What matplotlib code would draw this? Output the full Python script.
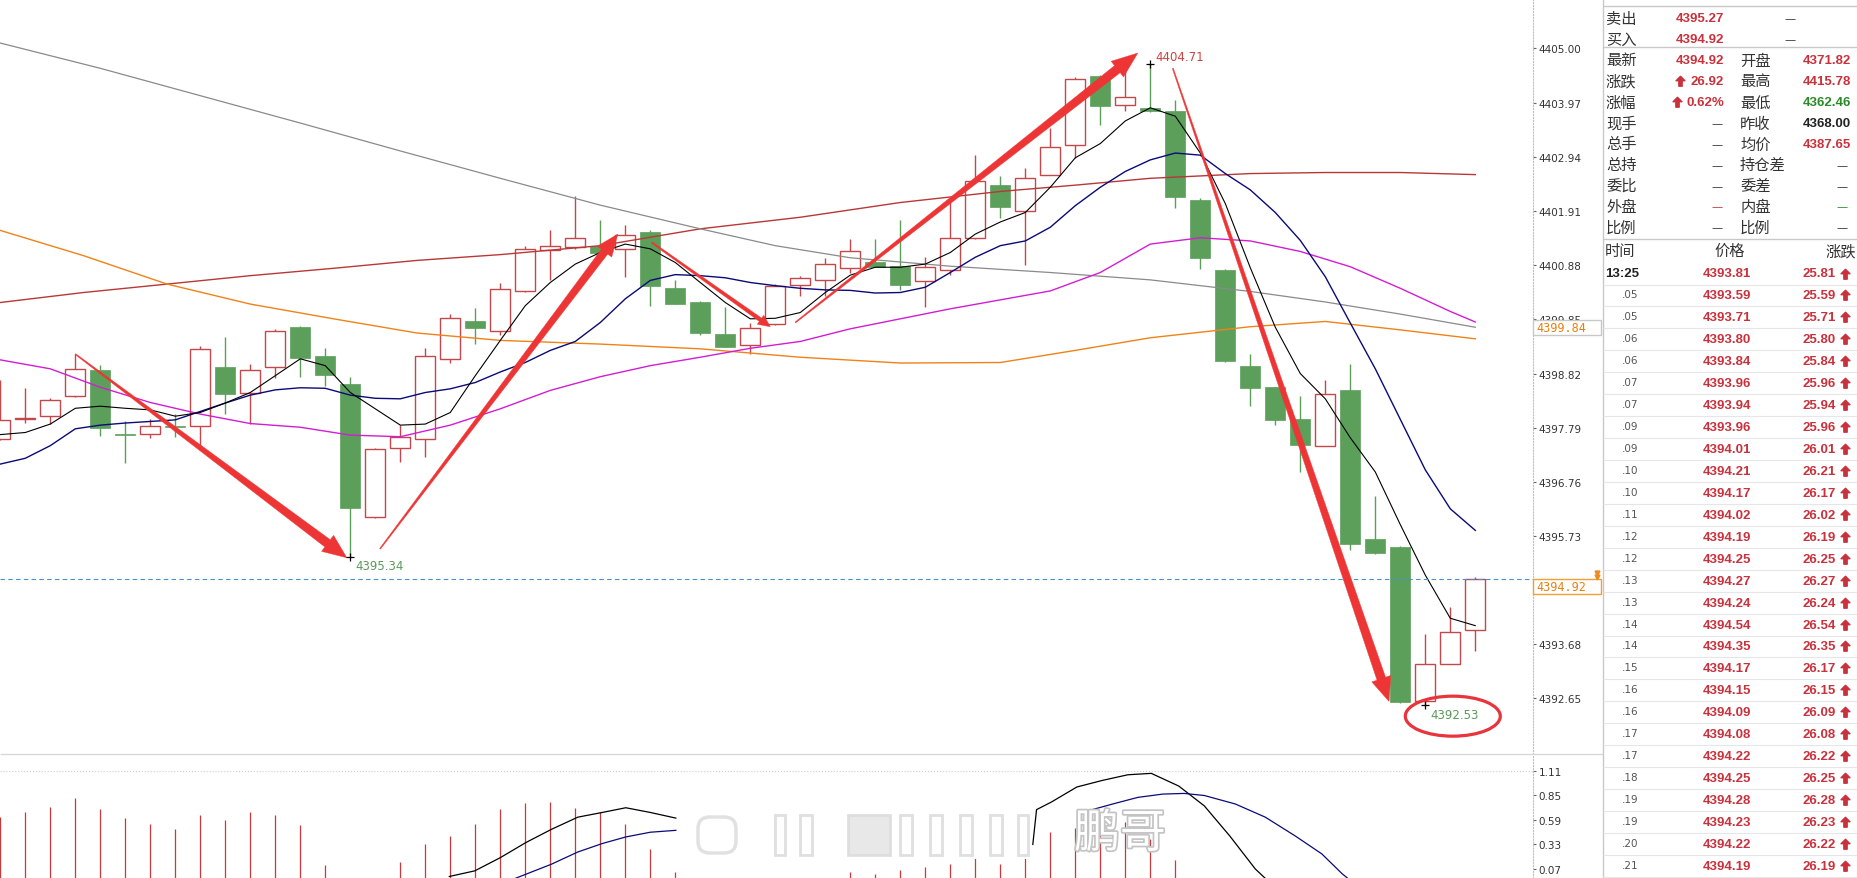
import numpy as np
import matplotlib
matplotlib.use("Agg")
import matplotlib.pyplot as plt
from matplotlib.patches import Polygon, Ellipse, Rectangle, FancyBboxPatch
from matplotlib.path import Path
import matplotlib.patheffects as pe

plt.rcParams['font.family'] = ['DejaVu Sans', 'Noto Sans CJK SC']

W, H = 1857, 879

# ---- candles (one per bar, index 0..59) ----
opens = [4397.58, 4397.96, 4398.02, 4398.39, 4398.89, 4397.68, 4397.68, 4397.83, 4397.82, 4398.94,
         4398.45, 4398.94, 4399.70, 4399.15, 4398.62, 4396.09, 4397.40, 4397.57, 4399.09, 4399.81,
         4399.62, 4400.38, 4401.17, 4401.23, 4401.24, 4401.19, 4401.51, 4400.45, 4400.18, 4399.57,
         4399.36, 4399.76, 4400.51, 4400.59, 4400.82, 4400.94, 4400.86, 4400.57, 4400.78, 4401.39,
         4402.40, 4401.90, 4402.60, 4403.16, 4404.48, 4403.92, 4403.86, 4403.80, 4402.12, 4400.79,
         4398.96, 4398.56, 4397.96, 4397.45, 4398.50, 4395.67, 4395.53, 4392.60, 4393.31, 4393.94]
highs = [4398.69, 4398.54, 4398.35, 4399.19, 4398.99, 4397.91, 4397.95, 4398.05, 4399.34, 4399.52,
         4399.00, 4399.67, 4399.73, 4399.31, 4398.75, 4397.41, 4397.84, 4399.30, 4399.95, 4400.07,
         4400.55, 4401.25, 4401.54, 4402.19, 4401.73, 4401.64, 4401.54, 4400.60, 4400.19, 4400.09,
         4399.79, 4400.52, 4400.67, 4401.02, 4401.38, 4401.38, 4401.73, 4401.03, 4402.15, 4402.97,
         4402.58, 4402.72, 4403.49, 4404.46, 4404.49, 4404.65, 4404.71, 4404.01, 4402.16, 4400.81,
         4399.19, 4398.57, 4398.39, 4398.69, 4399.00, 4396.49, 4395.55, 4393.87, 4394.39, 4394.95]
lows = [4397.55, 4397.88, 4397.86, 4398.38, 4397.64, 4397.12, 4397.59, 4397.61, 4397.42, 4398.05,
        4397.86, 4398.74, 4398.76, 4398.59, 4395.34, 4396.08, 4397.13, 4397.23, 4399.02, 4399.39,
        4399.56, 4400.37, 4400.59, 4401.19, 4401.06, 4400.66, 4400.11, 4400.14, 4399.56, 4399.32,
        4399.19, 4399.75, 4400.30, 4400.30, 4400.73, 4400.84, 4400.40, 4400.08, 4400.69, 4401.38,
        4401.78, 4400.89, 4402.59, 4402.91, 4403.55, 4403.81, 4403.79, 4401.96, 4400.81, 4399.04,
        4398.21, 4397.85, 4396.95, 4397.44, 4395.46, 4395.40, 4392.56, 4392.53, 4393.30, 4393.55]
closes = [4397.94, 4397.97, 4398.32, 4398.90, 4397.78, 4397.66, 4397.82, 4397.81, 4399.28, 4398.44,
          4398.88, 4399.62, 4399.12, 4398.80, 4396.26, 4397.38, 4397.61, 4399.15, 4399.87, 4399.68,
          4400.42, 4401.19, 4401.24, 4401.40, 4401.12, 4401.46, 4400.48, 4400.15, 4399.60, 4399.33,
          4399.68, 4400.48, 4400.64, 4400.91, 4401.14, 4400.85, 4400.51, 4400.84, 4401.39, 4402.47,
          4401.99, 4402.53, 4403.12, 4404.42, 4403.91, 4404.07, 4403.80, 4402.18, 4401.02, 4399.05,
          4398.54, 4397.93, 4397.47, 4398.43, 4395.59, 4395.41, 4392.57, 4393.31, 4393.90, 4394.92]

# ---- moving average lines ----
ma_black = [4397.66, 4397.70, 4397.86, 4398.16, 4398.20, 4398.16, 4398.13, 4398.01, 4398.08, 4398.26,
            4398.46, 4398.78, 4399.10, 4398.97, 4398.46, 4398.15, 4397.84, 4397.86, 4398.08, 4398.78,
            4399.45, 4400.11, 4400.55, 4400.90, 4401.12, 4401.28, 4401.19, 4400.93, 4400.55, 4400.17,
            4399.86, 4399.87, 4399.98, 4400.36, 4400.69, 4400.84, 4400.84, 4400.90, 4401.12, 4401.47,
            4401.70, 4401.88, 4402.36, 4402.92, 4403.19, 4403.62, 4403.87, 4403.71, 4403.01, 4402.05,
            4400.83, 4399.70, 4398.82, 4398.34, 4397.60, 4396.95, 4395.95, 4394.99, 4394.17, 4394.03]
ma_navy = [4397.10, 4397.21, 4397.45, 4397.77, 4397.84, 4397.88, 4397.91, 4397.94, 4398.10, 4398.26,
           4398.41, 4398.51, 4398.55, 4398.54, 4398.41, 4398.35, 4398.34, 4398.46, 4398.53, 4398.65,
           4398.85, 4399.03, 4399.26, 4399.43, 4399.79, 4400.24, 4400.59, 4400.70, 4400.68, 4400.64,
           4400.55, 4400.49, 4400.44, 4400.41, 4400.40, 4400.35, 4400.36, 4400.46, 4400.74, 4401.03,
           4401.25, 4401.34, 4401.60, 4402.01, 4402.36, 4402.66, 4402.88, 4403.01, 4402.97, 4402.62,
           4402.31, 4401.88, 4401.35, 4400.66, 4399.78, 4398.91, 4397.95, 4396.99, 4396.25, 4395.84]
mag_x = [0, 2, 4, 6, 8, 10, 12, 14, 16, 18, 20, 22, 24, 26, 28, 30, 32, 34, 36, 38, 40, 42, 44, 46, 48,
         50, 52, 54, 56, 58, 59]
mag_y = [4399.08, 4398.91, 4398.56, 4398.27, 4398.05, 4397.87, 4397.80, 4397.65, 4397.62, 4397.84,
         4398.15, 4398.50, 4398.76, 4398.97, 4399.13, 4399.30, 4399.43, 4399.67, 4399.86, 4400.05,
         4400.22, 4400.39, 4400.74, 4401.28, 4401.40, 4401.34, 4401.14, 4400.85, 4400.44, 4400.00, 4399.80]
gray_x = [0, 4, 8, 12, 16, 20, 24, 28, 31, 34, 38, 42, 46, 50, 53, 56, 59]
gray_y = [4405.10, 4404.62, 4404.10, 4403.58, 4403.05, 4402.53, 4402.02, 4401.57, 4401.25, 4401.02,
          4400.86, 4400.74, 4400.60, 4400.38, 4400.18, 4399.95, 4399.70]
orange_x = [0, 3.33, 6.67, 10, 13.33, 16.67, 20, 24, 28, 32, 36, 40, 43, 46, 50, 53, 56, 59]
orange_y = [4401.54, 4401.06, 4400.52, 4400.14, 4399.86, 4399.59, 4399.45, 4399.38, 4399.29, 4399.13,
            4399.02, 4399.03, 4399.26, 4399.50, 4399.71, 4399.81, 4399.65, 4399.48]
brown_x = [0, 3.33, 6.67, 10, 13.33, 16.67, 20, 24, 28, 32, 36, 40, 43, 46, 50, 53, 56, 59]
brown_y = [4400.17, 4400.36, 4400.52, 4400.68, 4400.82, 4400.97, 4401.08, 4401.25, 4401.57, 4401.79,
           4402.07, 4402.28, 4402.40, 4402.53, 4402.62, 4402.64, 4402.64, 4402.60]

price_ticks = [4405.00, 4403.97, 4402.94, 4401.91, 4400.88, 4399.85, 4398.82, 4397.79, 4396.76,
               4395.73, 4393.68, 4392.65]
last_price = 4394.92
box_price = 4399.84

# ---- hand drawn annotations ----
arrow_x0 = [3.0, 15.19, 26.06, 31.8, 46.9]
arrow_y0 = [4399.19, 4395.49, 4401.31, 4399.79, 4404.62]
arrow_x1 = [13.86, 24.7, 30.8, 45.5, 55.55]
arrow_y1 = [4395.32, 4401.47, 4399.71, 4404.91, 4392.59]
marks_x = [14, 46, 57]
marks_y = [4395.34, 4404.71, 4392.53]
marks_txt = ["4395.34", "4404.71", "4392.53"]

# ---- lower panel ----
bar_vals = [0.62, 0.67, 0.73, 0.82, 0.71, 0.61, 0.55, 0.49, 0.64, 0.59, 0.68, 0.64, 0.54, 0.11,
            np.nan, np.nan, 0.14, 0.34, 0.42, 0.55, 0.71, 0.77, 0.78, 0.72, 0.67, 0.55, 0.28, 0.04,
            np.nan, np.nan, np.nan, np.nan, np.nan, np.nan, 0.035, 0.02, 0.06, 0.09, 0.12, 0.20,
            0.12, 0.28, 0.46, 0.51, 0.55, 0.565, 0.39, 0.16]
dif_x = [17.96, 18.98, 20.0, 21.02, 22.04, 23.1, 24.08, 25.02, 26.0, 27.02, np.nan, 41.3, 41.45,
         42.04, 43.06, 44.08, 45.1, 46.04, 47.14, 48.16, 49.18, 50.2, 50.6]
dif_v = [-0.01, 0.05, 0.19, 0.35, 0.49, 0.62, 0.67, 0.72, 0.67, 0.61, np.nan, 0.33, 0.70, 0.78,
         0.94, 1.01, 1.07, 1.085, 0.95, 0.74, 0.42, 0.07, -0.03]
dea_x = [20.6, 22.04, 23.1, 24.08, 25.02, 26.0, 27.02, np.nan, 43.27, 44.5, 45.5, 46.5, 47.35,
         48.16, 49.4, 50.6, 51.8, 52.86, 53.67, 53.9]
dea_v = [-0.03, 0.12, 0.25, 0.34, 0.41, 0.46, 0.48, np.nan, 0.67, 0.76, 0.83, 0.865, 0.872, 0.85,
         0.76, 0.62, 0.42, 0.23, 0.02, -0.03]
low_ticks = [1.11, 0.85, 0.59, 0.33, 0.07]

# ---- quote table on the right ----
info_lab1 = ["卖出", "买入", "最新", "涨跌", "涨幅", "现手", "总手", "总持", "委比", "外盘", "比例"]
info_val1 = ["4395.27", "4394.92", "4394.92", "26.92", "0.62%", "—", "—", "—", "—", "—", "—"]
info_lab2 = ["", "", "开盘", "最高", "最低", "昨收", "均价", "持仓差", "委差", "内盘", "比例"]
info_val2 = ["—", "—", "4371.82", "4415.78", "4362.46", "4368.00", "4387.65", "—", "—", "—", "—"]
tick_times = ["13:25", ".05", ".05", ".06", ".06", ".07", ".07", ".09", ".09", ".10", ".10", ".11",
              ".12", ".12", ".13", ".13", ".14", ".14", ".15", ".16", ".16", ".17", ".17", ".18",
              ".19", ".19", ".20", ".21"]
tick_prices = [4393.81, 4393.59, 4393.71, 4393.80, 4393.84, 4393.96, 4393.94, 4393.96, 4394.01,
               4394.21, 4394.17, 4394.02, 4394.19, 4394.25, 4394.27, 4394.24, 4394.54, 4394.35,
               4394.17, 4394.15, 4394.09, 4394.08, 4394.22, 4394.25, 4394.28, 4394.23, 4394.22,
               4394.19]
tick_changes = [25.81, 25.59, 25.71, 25.80, 25.84, 25.96, 25.94, 25.96, 26.01, 26.21, 26.17, 26.02,
                26.19, 26.25, 26.27, 26.24, 26.54, 26.35, 26.17, 26.15, 26.09, 26.08, 26.22, 26.25,
                26.28, 26.23, 26.22, 26.19]

RED_C = '#c4474b'
GREEN_C = '#5b9f5b'
ARROW_C = '#ee3535'
RED_T = '#c8323c'
GREEN_T = '#2a8a2a'
CJK = ['Noto Sans CJK SC', 'DejaVu Sans']
NUM = ['Liberation Sans', 'DejaVu Sans']


def tapered_arrow(ax, x0, y0, x1, y1, w0, w1, hw, hl, color):
    p0 = ax.transData.transform((x0, y0))
    p1 = ax.transData.transform((x1, y1))
    d = p1 - p0
    u = d / np.hypot(*d)
    n = np.array([-u[1], u[0]])
    b = p1 - u * hl
    pts = [p0 + n * w0 / 2, b + n * w1 / 2, b + n * hw / 2, p1,
           b - n * hw / 2, b - n * w1 / 2, p0 - n * w0 / 2]
    pts = ax.transData.inverted().transform(pts)
    ax.add_patch(Polygon(pts, closed=True, fc=color, ec=color, lw=0.3, zorder=6, clip_on=False))


fig = plt.figure(figsize=(W / 100, H / 100), dpi=100)
fig.patch.set_facecolor('white')

# main price panel
ax = fig.add_axes([0, 1 - 755 / H, 1533 / W, 755 / H])
ax.set_xlim(-0.012, 61.308)
ax.set_ylim(4391.591, 4405.937)

idx = np.arange(len(opens))
o = np.array(opens); c = np.array(closes); hi = np.array(highs); lo = np.array(lows)
up = c >= o
ax.vlines(idx, lo, hi, colors=[RED_C if u else GREEN_C for u in up], lw=1, zorder=2)
body_lo = np.minimum(o, c)
body_h = np.maximum(np.abs(c - o), 0.02)
ax.bar(idx[up], body_h[up], bottom=body_lo[up], width=0.8, facecolor='white',
       edgecolor=RED_C, linewidth=1.0, zorder=3)
ax.bar(idx[~up], body_h[~up], bottom=body_lo[~up], width=0.8, color=GREEN_C,
       edgecolor=GREEN_C, linewidth=0.5, zorder=3)

ax.plot(brown_x, brown_y, color='#b83838', lw=1.0, zorder=4)
ax.plot(orange_x, orange_y, color='#f08218', lw=1.0, zorder=4)
ax.plot(gray_x, gray_y, color='#8a8a8a', lw=0.9, zorder=4)
ax.plot(mag_x, mag_y, color='#d21ed2', lw=1.0, zorder=4)
ax.plot(idx, ma_navy, color='#0a0a78', lw=1.0, zorder=4)
ax.plot(idx, ma_black, color='#000000', lw=0.8, zorder=4)

ax.axhline(last_price, color='#4a8fd0', ls=(0, (4, 3)), lw=0.8, zorder=4)

for sp in ['left', 'top', 'bottom']:
    ax.spines[sp].set_visible(False)
ax.spines['right'].set_color('#c0c0c0')
ax.spines['right'].set_linestyle(':')
ax.set_xticks([])
ax.yaxis.tick_right()
ax.set_yticks(price_ticks)
ax.set_yticklabels([f"{t:.2f}" for t in price_ticks])
ax.tick_params(axis='y', direction='out', length=2.5, width=0.8, color='#666666',
               pad=1.5, labelsize=7.5, labelcolor='#333333')

# markers for extremes and their labels
ax.plot(marks_x, marks_y, ls='none', marker='+', ms=6, mew=0.9, color='black', zorder=7)
ax.annotate(marks_txt[0], (marks_x[0], marks_y[0]), xytext=(3.5, -6.5), textcoords='offset points',
            color='#5a9a5a', fontsize=8.5, va='center', ha='left', zorder=7)
ax.annotate(marks_txt[1], (marks_x[1], marks_y[1]), xytext=(3.5, 4.8), textcoords='offset points',
            color='#d04040', fontsize=8.5, va='center', ha='left', zorder=7)
ax.annotate(marks_txt[2], (marks_x[2], marks_y[2]), xytext=(3.5, -6.8), textcoords='offset points',
            color='#5a9a5a', fontsize=8.5, va='center', ha='left', zorder=7)

# red hand drawn arrows and circle
w0s = [1, 1, 1.5, 1, 1]
w1s = [9, 8, 4, 9, 9]
hws = [20, 18, 11, 20, 20]
hls = [24, 22, 12, 26, 24]
for i in range(len(arrow_x0)):
    tapered_arrow(ax, arrow_x0[i], arrow_y0[i], arrow_x1[i], arrow_y1[i],
                  w0s[i], w1s[i], hws[i], hls[i], ARROW_C)
ax.add_patch(Ellipse((58.1, 4392.31), 3.8, 0.76, fill=False, ec='#e8343a', lw=2.3, zorder=7))

# lower indicator panel
ax2 = fig.add_axes([0, 0, 1533 / W, 123 / H])
ax2.set_xlim(-0.012, 61.308)
ax2.set_ylim(-0.026, 1.28)
bidx = np.arange(len(bar_vals))
bv = np.array(bar_vals)
ok = ~np.isnan(bv)
ax2.vlines(bidx[ok], -0.026, bv[ok], colors='#c8393c', lw=0.9, zorder=2)
ax2.plot(dif_x, dif_v, color='black', lw=0.9, zorder=3)
ax2.plot(dea_x, dea_v, color='#0a0a78', lw=0.9, zorder=3)
ax2.axhline(1.11, color='#cccccc', ls=':', lw=0.8)
for sp in ['left', 'top', 'bottom']:
    ax2.spines[sp].set_visible(False)
ax2.spines['right'].set_color('#c0c0c0')
ax2.spines['right'].set_linestyle(':')
ax2.set_xticks([])
ax2.yaxis.tick_right()
ax2.set_yticks(low_ticks)
ax2.set_yticklabels([f"{t:.2f}" for t in low_ticks])
ax2.tick_params(axis='y', direction='out', length=2.5, width=0.8, color='#666666',
                pad=1.5, labelsize=7.5, labelcolor='#333333')

# overlay in pixel coordinates for the table and decorations
ov = fig.add_axes([0, 0, 1, 1], zorder=10)
ov.set_xlim(0, W)
ov.set_ylim(H, 0)
ov.set_axis_off()
ov.patch.set_alpha(0)

UP = Path([(0, 1), (0.85, 0.15), (0.32, 0.15), (0.32, -0.9), (-0.32, -0.9), (-0.32, 0.15),
           (-0.85, 0.15), (0, 1)],
          [Path.MOVETO] + [Path.LINETO] * 6 + [Path.CLOSEPOLY])


def ypx(val, axis=ax):
    return H - axis.transData.transform((0, val))[1]


# price boxes on the axis
for val, ec in [(box_price, '#c8c8c8'), (last_price, '#f0a030')]:
    yt = ypx(val)
    ov.add_patch(Rectangle((1533, yt + 0.5), 68, 15, fc='white', ec=ec, lw=1))
    ov.text(1536, yt + 8, f"{val:.2f}", family='DejaVu Sans Mono', fontsize=8.5,
            color='#e8800f', va='center', ha='left')
ov.plot([1597, 1597], [574, 578], ls='none', marker='v', ms=3.5, color='#f08a20')

# separators
ov.hlines(755, 0, 1603, color='#d8d8d8', lw=1)
ov.vlines(1603, 0, H, color='#c8c8c8', lw=1)
ov.hlines([7.3, 48.3, 240], 1603, W, color='#c8c8c8', lw=1)

row_y = [19, 40, 61, 81.7, 103.3, 124.3, 145, 165.7, 186.7, 207.3, 228.3]
val1_col = [RED_T, RED_T, RED_T, RED_T, RED_T, '#333333', '#333333', '#333333', '#333333',
            RED_T, '#333333']
val2_col = ['#333333', '#333333', RED_T, RED_T, GREEN_T, '#222222', RED_T, '#333333',
            '#333333', GREEN_T, '#333333']
for i, y in enumerate(row_y):
    ov.text(1606, y, info_lab1[i], family=CJK, fontsize=11, color='#333333', va='center')
    if info_val1[i] == '—':
        ov.text(1717, y, '—', fontsize=8, color=val1_col[i], va='center', ha='center')
    else:
        ov.text(1724, y, info_val1[i], family=NUM, fontsize=9.5, fontweight='bold',
                color=val1_col[i], va='center', ha='right')
    if info_lab2[i]:
        ov.text(1740, y, info_lab2[i], family=CJK, fontsize=11, color='#333333', va='center')
    if info_val2[i] == '—':
        xd = 1790 if i < 2 else 1842
        ov.text(xd, y, '—', fontsize=8, color=val2_col[i], va='center', ha='center')
    else:
        ov.text(1851, y, info_val2[i], family=NUM, fontsize=9.5, fontweight='bold',
                color=val2_col[i], va='center', ha='right')
ov.plot([1680, 1677], [row_y[3], row_y[4]], ls='none', marker=UP, ms=7.5, color=RED_T)

ov.text(1605, 251.7, "时间", family=CJK, fontsize=11, color='#333333', va='center')
ov.text(1730, 251.7, "价格", family=CJK, fontsize=11, color='#333333', va='center', ha='center')
ov.text(1856, 251.7, "涨跌", family=CJK, fontsize=11, color='#333333', va='center', ha='right')

for i in range(len(tick_times)):
    y = 274.5 + 21.94 * i
    if i == 0:
        ov.text(1605, y, tick_times[i], family=NUM, fontsize=9.5, fontweight='bold',
                color='#222222', va='center')
    else:
        ov.text(1622, y - 1, tick_times[i], fontsize=7.5, color='#555555', va='center')
    ov.text(1727, y, f"{tick_prices[i]:.2f}", family=NUM, fontsize=9.5, fontweight='bold',
            color=RED_T, va='center', ha='center')
    ov.text(1836, y, f"{tick_changes[i]:.2f}", family=NUM, fontsize=9.5, fontweight='bold',
            color=RED_T, va='center', ha='right')
    ov.plot([1845], [y], ls='none', marker=UP, ms=7.5, color=RED_T)
    ov.hlines(y + 11, 1603, W, color='#e6e6e6', lw=0.8)

# watermark
ov.add_patch(Rectangle((690, 810), 340, 50, fc='white', ec='none', alpha=0.93))
ov.add_patch(FancyBboxPatch((698, 818), 38, 36, boxstyle='round,pad=0,rounding_size=12',
                            fc='white', ec='#dedede', lw=2.5, alpha=0.9))
for x0, wd, fc in [(775, 10, 'white'), (800, 12, 'white'), (848, 42, '#e6e6e6'),
                   (900, 12, 'white'), (930, 12, 'white'), (960, 12, 'white'),
                   (990, 12, 'white'), (1018, 10, 'white')]:
    ov.add_patch(Rectangle((x0, 816), wd, 40, fc=fc, ec='#dcdcdc', lw=2, alpha=0.9))
ov.text(1120, 835, "鹏哥", family=CJK, fontsize=33, color='white', ha='center', va='center',
        path_effects=[pe.withStroke(linewidth=2.5, foreground='#c4c4c4')])

fig.savefig("out.png", dpi=100, facecolor='white')
